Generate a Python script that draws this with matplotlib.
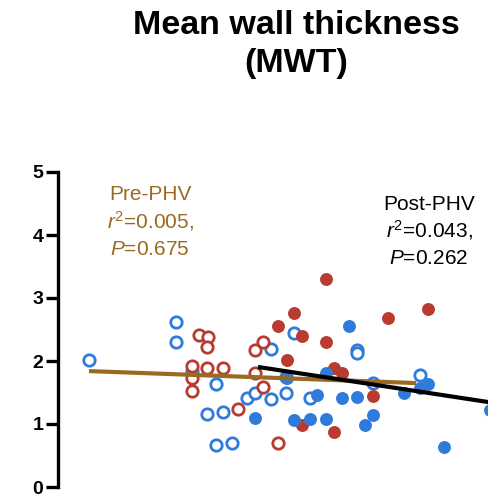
import matplotlib
matplotlib.use('Agg')
import matplotlib.pyplot as plt
import numpy as np

plt.rcParams['font.family'] = ['Liberation Sans', 'DejaVu Sans']
plt.rcParams['mathtext.fontset'] = 'custom'
plt.rcParams['mathtext.rm'] = 'Liberation Sans'
plt.rcParams['mathtext.it'] = 'Liberation Sans:italic'

# pre-PHV (open markers)
pre_blue_x = [0.72, 2.74, 2.74, 3.12, 3.67, 3.47, 3.84, 3.67, 4.05, 4.40, 4.58,
              4.95, 4.95, 5.30, 5.30, 5.49, 5.86, 6.95, 6.95, 7.33, 8.42]
pre_blue_y = [2.02, 2.62, 2.30, 1.84, 1.63, 1.16, 1.19, 0.67, 0.70, 1.41, 1.49,
              2.19, 1.40, 1.49, 1.75, 2.44, 1.41, 2.17, 2.13, 1.65, 1.78]
pre_red_x = [3.28, 3.49, 3.47, 3.12, 3.12, 3.12, 3.47, 3.84, 4.19, 4.58, 4.77,
             4.58, 4.77, 5.12]
pre_red_y = [2.41, 2.38, 2.22, 1.92, 1.73, 1.52, 1.89, 1.89, 1.24, 2.17, 2.30,
             1.81, 1.59, 0.70]

# post-PHV (filled markers)
post_red_x = [5.12, 5.49, 5.67, 6.23, 6.23, 5.33, 6.42, 6.60, 7.33, 5.67, 6.42,
              7.67, 8.60]
post_red_y = [2.56, 2.76, 2.40, 3.30, 2.30, 2.02, 1.89, 1.81, 1.44, 0.98, 0.87,
              2.68, 2.83]
post_blue_x = [5.33, 6.02, 6.23, 6.60, 6.95, 6.77, 7.33, 7.14, 4.58, 5.49, 5.86,
               6.23, 8.05, 8.60, 8.42, 8.98, 10.05]
post_blue_y = [1.73, 1.46, 1.81, 1.41, 1.43, 2.56, 1.14, 0.98, 1.10, 1.06, 1.08,
               1.08, 1.49, 1.63, 1.57, 0.63, 1.22]

# regression lines (slope, intercept, x range)
pre_fit = (-0.025, 1.858, 0.72, 8.33)
post_fit = (-0.104, 2.389, 4.65, 10.05)

pre_label = ['Pre-PHV', r'$\mathit{r}^2$=0.005,', r'$\mathit{P}$=0.675']
post_label = ['Post-PHV', r'$\mathit{r}^2$=0.043,', r'$\mathit{P}$=0.262']

blue = '#2e7bdc'
red = '#b93a2f'
brown = '#9a6a22'

fig = plt.figure(figsize=(4.88, 5), dpi=100)
ax = fig.add_axes([58 / 488, 13 / 500, 1 - 58 / 488, 315 / 500])
ax.set_xlim(0, 10)
ax.set_ylim(0, 5)

ax.plot(pre_blue_x, pre_blue_y, 'o', ms=8.2, mfc='white', mec=blue, mew=2.0, zorder=2, clip_on=False)
ax.plot(pre_red_x, pre_red_y, 'o', ms=8.2, mfc='white', mec=red, mew=2.0, zorder=2, clip_on=False)
ax.plot(post_red_x, post_red_y, 'o', ms=9.3, mfc=red, mec='none', zorder=2, clip_on=False)
ax.plot(post_blue_x, post_blue_y, 'o', ms=9.3, mfc=blue, mec='none', zorder=2, clip_on=False)

for fit, col, z in [(pre_fit, brown, 3), (post_fit, 'black', 4)]:
    m, b, x0, x1 = fit
    xs = np.array([x0, x1])
    ax.plot(xs, m * xs + b, color=col, lw=3.0, zorder=z, solid_capstyle='butt', clip_on=False)

for txt, yy in zip(pre_label, [4.56, 4.11, 3.69]):
    ax.text(2.14, yy, txt, color=brown, fontsize=15, ha='center', va='baseline')
for txt, yy in zip(post_label, [4.40, 3.96, 3.54]):
    ax.text(8.63, yy, txt, color='black', fontsize=15, ha='center', va='baseline')

for s in ['top', 'right', 'bottom']:
    ax.spines[s].set_visible(False)
ax.spines['left'].set_linewidth(2.4)
ax.set_xticks([])
ax.set_yticks([0, 1, 2, 3, 4, 5])
ax.tick_params(axis='y', length=9, width=2.4, pad=1.5, labelsize=14)
for lab in ax.get_yticklabels():
    lab.set_fontweight('bold')

fig.text(296 / 488, 1 - 34 / 500, 'Mean wall thickness', fontsize=24.5, fontweight='bold',
         ha='center', va='baseline')
fig.text(296 / 488, 1 - 72 / 500, '(MWT)', fontsize=24.5, fontweight='bold',
         ha='center', va='baseline')

fig.savefig('out.png', dpi=100)
